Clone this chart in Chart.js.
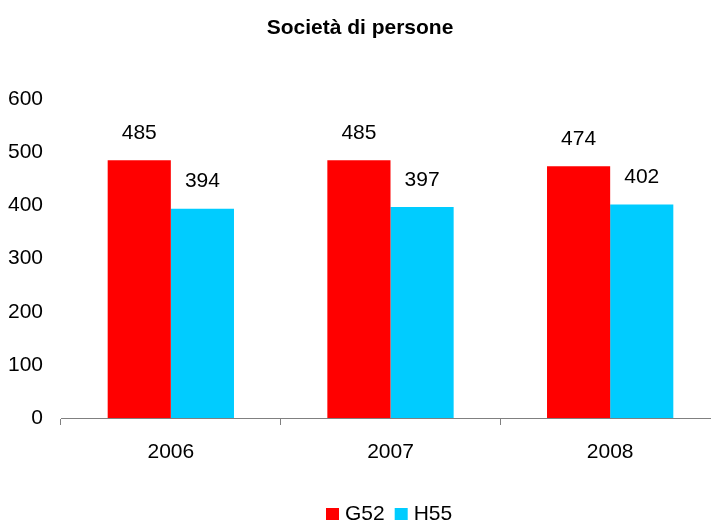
<!DOCTYPE html>
<html>
<head>
<meta charset="utf-8">
<script src="https://cdn.jsdelivr.net/npm/chart.js@4/dist/chart.umd.min.js"></script>
<style>
  html, body { margin: 0; padding: 0; background: #fff; overflow: hidden; }
  #wrap { width: 720px; height: 521px; }
</style>
</head>
<body>
<div id="wrap"><canvas id="chart" width="720" height="521"></canvas></div>
<script>
// dati del grafico
const anni = ['2006', '2007', '2008'];
const serieG52 = [485, 485, 474];
const serieH55 = [394, 397, 402];
const yTicks = [0, 100, 200, 300, 400, 500, 600];

const FONT = 'Arial, "Liberation Sans", sans-serif';

// etichette dei valori sopra le barre
const valueLabels = {
  id: 'valueLabels',
  afterDatasetsDraw(chart) {
    const ctx = chart.ctx;
    ctx.save();
    ctx.font = '21px ' + FONT;
    ctx.fillStyle = '#000';
    ctx.textAlign = 'center';
    ctx.textBaseline = 'middle';
    chart.data.datasets.forEach((ds, i) => {
      chart.getDatasetMeta(i).data.forEach((bar, j) => {
        ctx.fillText(ds.data[j], bar.x, bar.y - 27);
      });
    });
    ctx.restore();
  }
};

// legenda in basso, disegnata a mano (box vicino al testo)
const bottomLegend = {
  id: 'bottomLegend',
  afterDraw(chart) {
    const ctx = chart.ctx;
    ctx.save();
    ctx.font = '21px ' + FONT;
    ctx.textAlign = 'left';
    ctx.textBaseline = 'alphabetic';
    let x = 326;
    chart.data.datasets.forEach(ds => {
      ctx.fillStyle = ds.backgroundColor;
      ctx.fillRect(x, 508, 13, 12);
      x += 19;
      ctx.fillStyle = '#000';
      ctx.fillText(ds.label, x, 520);
      x += ctx.measureText(ds.label).width + 10;
    });
    ctx.restore();
  }
};

new Chart(document.getElementById('chart'), {
  type: 'bar',
  data: {
    labels: anni,
    datasets: [
      { label: 'G52', data: serieG52, backgroundColor: '#FF0000' },
      { label: 'H55', data: serieH55, backgroundColor: '#00CCFF' }
    ]
  },
  options: {
    responsive: false,
    animation: false,
    layout: { padding: 0 },
    datasets: { bar: { categoryPercentage: 0.575, barPercentage: 1.0 } },
    plugins: {
      title: {
        display: true,
        text: 'Società di persone',
        color: '#000',
        font: { family: FONT, size: 21, weight: 'bold' },
        padding: { top: 16, bottom: 58 }
      },
      legend: { display: false },
      tooltip: { enabled: false }
    },
    scales: {
      x: {
        grid: {
          display: true,
          offset: true,
          drawOnChartArea: false,
          drawTicks: true,
          tickLength: 7,
          color: '#808080'
        },
        border: { display: true, color: '#808080', width: 1 },
        ticks: { color: '#000', font: { family: FONT, size: 21 }, padding: 15 },
        afterFit(scale) { scale.height = 103; }
      },
      y: {
        min: 0,
        max: 600,
        afterBuildTicks(scale) { scale.ticks = yTicks.map(v => ({ value: v })); },
        grid: { display: false, drawTicks: false },
        border: { display: false },
        ticks: { color: '#000', font: { family: FONT, size: 21 }, padding: 18 },
        afterFit(scale) { scale.width = 61; }
      }
    }
  },
  plugins: [valueLabels, bottomLegend]
});
</script>
</body>
</html>
